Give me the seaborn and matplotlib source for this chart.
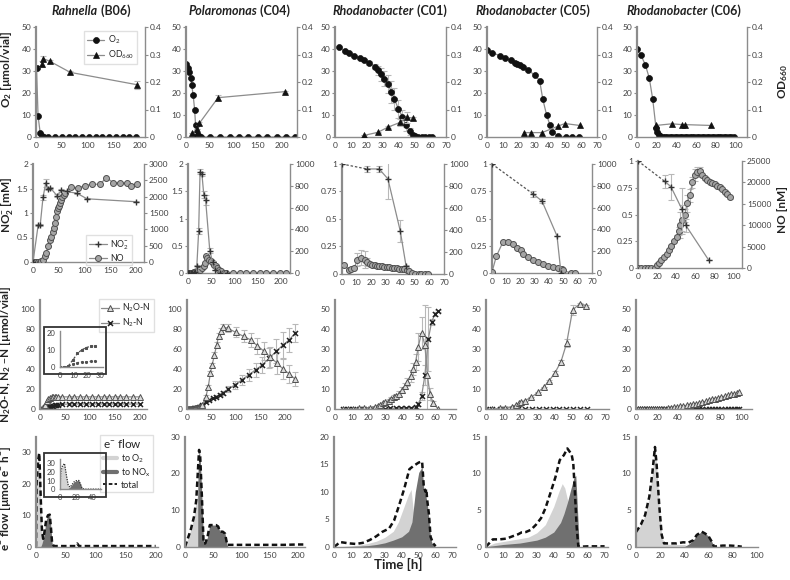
import numpy as np
import pandas as pd
import seaborn as sns
import matplotlib
matplotlib.use("Agg")
import matplotlib.pyplot as plt
from matplotlib.ticker import FuncFormatter
from matplotlib.lines import Line2D
from matplotlib.patches import Rectangle

# ---------------- DATA ----------------
titles_genus = ["Rahnella", "Polaromonas", "Rhodanobacter", "Rhodanobacter", "Rhodanobacter"]
titles_code = [" (B06)", " (C04)", " (C01)", " (C05)", " (C06)"]

# Row 1: O2 (umol/vial) and OD660
b06_o2_t = [1, 4, 8, 11, 16, 24, 37, 50, 63, 76, 89, 102, 115, 128, 141, 154, 167, 180, 193]
b06_o2 = [31.5, 9.5, 2.0, 0.5, 0, 0, 0, 0, 0, 0, 0, 0, 0, 0, 0, 0, 0, 0, 0]
b06_od_t = [11, 14, 27, 66, 195]
b06_od = [0.265, 0.285, 0.275, 0.235, 0.19]
b06_od_err = [0.01, 0.01, 0.005, 0.005, 0.015]

c04_o2_t = [1, 4, 7, 10, 12, 15, 18, 20, 23, 27, 31, 50, 71, 92, 111, 130, 151, 169, 190, 209, 228]
c04_o2 = [33, 31.5, 29.5, 27, 23.5, 19, 12.5, 5.5, 1.5, 0.5, 0, 0, 0, 0, 0, 0, 0, 0, 0, 0, 0]
c04_od_t = [12, 24, 28, 67, 207]
c04_od = [0.013, 0.03, 0.05, 0.143, 0.165]
c04_od_err = [0, 0, 0.005, 0.008, 0.004]

c01_o2_t = [2.5, 6, 9, 12, 15.5, 18.5, 21.5, 25, 27, 29, 31, 33.5, 35.5, 37.5, 40, 42.5, 44.5, 47, 49, 50.5, 52.5, 55, 57, 59, 61]
c01_o2 = [40.7, 39.2, 38.1, 37, 36, 35, 33.7, 32, 30.4, 28.5, 26.5, 24.1, 20.6, 17.2, 12.7, 9.3, 5.6, 2.6, 0.8, 0.3, 0, 0, 0, 0, 0]
c01_o2_err = [0, 0, 0, 0, 0, 0.5, 0.8, 1, 2, 3, 3.5, 4, 5, 5, 4, 3, 3, 1.5, 0.5, 0, 0, 0, 0, 0, 0]
c01_od_t = [18.5, 27, 33.5, 41, 45.5, 49.5]
c01_od = [0.006, 0.017, 0.036, 0.053, 0.072, 0.068]
c01_od_err = [0, 0.002, 0.004, 0.012, 0.02, 0.005]

c05_o2_t = [0, 3, 8.5, 11.5, 15, 18, 19, 21, 23, 26, 30.5, 33.5, 35.5, 38, 40, 41.5, 45.5, 50, 54, 58.5]
c05_o2 = [39.5, 38.3, 37, 35.8, 34.9, 33.8, 33.2, 32.6, 31.7, 30.3, 28.2, 25.6, 17.2, 9.8, 5.6, 2.4, 0.5, 0, 0, 0]
c05_od_t = [23.5, 28, 35, 45.5, 49.5, 59]
c05_od = [0.016, 0.016, 0.016, 0.04, 0.049, 0.042]

c06_o2_t = [0, 4, 8.5, 12.5, 16, 19.3, 20.3, 22, 23.7, 26, 28.5, 31, 33.5, 36, 38.5, 41, 43.5, 46, 48.5, 51,
            53.5, 56, 58.5, 61, 63.5, 66, 68.5, 71, 73.5, 76, 78.5, 81, 83.5, 86, 88.5, 91, 93.5, 96, 98.5]
c06_o2 = [39.8, 37.2, 32.8, 26.8, 17.2, 4.3, 2.1, 0.9, 0.3, 0, 0, 0, 0, 0, 0, 0, 0, 0, 0, 0,
          0, 0, 0, 0, 0, 0, 0, 0, 0, 0, 0, 0, 0, 0, 0, 0, 0, 0, 0]
c06_od_t = [19.3, 35.6, 45.8, 49.2, 75]
c06_od = [0.042, 0.048, 0.045, 0.045, 0.042]

# Row 2: NO2- (mM) and NO (nM)
b06_no2_t = [0, 10, 14, 19.5, 25, 29, 34, 47, 55, 66, 86, 105, 201]
b06_no2 = [0, 0.75, 0.75, 1.32, 1.62, 1.49, 1.51, 1.35, 1.46, 1.44, 1.4, 1.29, 1.23]
b06_no2_err = [0, 0.02, 0.02, 0.05, 0.08, 0.02, 0.02, 0.03, 0.04, 0.02, 0.01, 0.01, 0.01]
b06_no_t = [0, 3, 6.5, 10, 13, 16, 19.5, 22.5, 26, 29, 32.5, 35.5, 39, 41, 42.5, 44, 47, 48.5, 50.5, 53, 55, 57,
            59.5, 61.5, 73, 87.5, 100.5, 115.5, 130, 143, 156, 169, 182, 191.5, 203]
b06_no = [0, 0, 0, 0, 10, 20, 70, 170, 290, 480, 680, 780, 930, 1040, 1200, 1390, 1550, 1650, 1720, 1800, 1900, 1980,
          2050, 2110, 2290, 2260, 2340, 2380, 2380, 2580, 2430, 2430, 2410, 2340, 2390]

c04_no2_t = [0, 3, 6, 9, 12, 15, 19, 23, 26, 30, 34, 38, 47, 53, 58, 70, 85]
c04_no2 = [0, 0, 0, 0, 0, 0.02, 0.12, 0.77, 1.86, 1.82, 1.44, 1.34, 0.41, 0.2, 0.05, 0, 0]
c04_no2_err = [0, 0, 0, 0, 0, 0, 0.03, 0.05, 0.05, 0.04, 0.06, 0.1, 0.05, 0.02, 0, 0, 0]
c04_no_t = [0, 2, 4, 6, 8, 10, 12, 14, 16, 19, 22, 26, 30, 33.5, 37, 39, 42, 46, 49, 53, 56, 60, 63, 67, 72, 78, 83,
            98, 112, 126, 141, 155, 169, 184, 198, 212]
c04_no = [0, 0, 0, 0, 0, 2, 5, 8, 12, 20, 25, 30, 46, 61, 90, 152, 137, 122, 107, 91, 76, 61, 46, 30, 15, 0, 0,
          0, 0, 0, 0, 0, 0, 0, 0, 0]

c01_no2_t = [0, 17, 25.5, 31.5, 40, 44]
c01_no2 = [1, 0.955, 0.955, 0.865, 0.39, 0.07]
c01_no2_err = [0, 0.03, 0.03, 0.18, 0.1, 0.01]
c01_no_t = [1.5, 4.5, 6.5, 8.5, 10.5, 13, 15.5, 17, 19, 20.5, 22.5, 24, 25.5, 27.5, 29, 31, 32.5, 34, 36, 37.5, 39,
            41, 42.5, 44.5, 46, 48, 50, 52.5, 54.5, 57, 59]
c01_no = [85, 40, 49, 58, 131, 149, 131, 109, 94, 85, 79, 76, 73, 70, 67, 64, 61, 58, 55, 52, 49,
          46, 43, 33, 24, 12, 3, 0, 0, 0, 0]
c01_no_err = [8, 5, 5, 8, 60, 70, 80, 40, 10, 5, 5, 5, 5, 5, 5, 5, 5, 5, 5, 5, 5, 5, 5, 5, 5, 5, 3, 0, 0, 0, 0]

c05_no2_t = [0, 28.7, 35, 45.5, 48.3]
c05_no2 = [1, 0.726, 0.66, 0.34, 0]
c05_no2_err = [0, 0.03, 0.02, 0, 0]
c05_no_t = [0, 3, 7.5, 11, 14.5, 17.5, 20, 22, 25.5, 29, 32.5, 36, 39.5, 43, 46.5, 49, 50, 55, 58]
c05_no = [9, 152, 280, 283, 265, 229, 207, 177, 146, 122, 104, 85, 67, 52, 43, 40, 24, 0, 0]

c06_no2_t = [0, 28, 34.5, 46, 50, 74]
c06_no2 = [1, 0.81, 0.76, 0.55, 0.4, 0.075]
c06_no2_err = [0, 0.06, 0.12, 0.2, 0.06, 0]
c06_no_t = [0, 3.5, 7, 10.5, 14, 17.5, 19.5, 22, 24.5, 27, 30, 32.5, 35, 37.5, 40.5, 43, 44.5, 46.5, 49, 51.5, 54.5,
            57, 59.5, 62, 65, 67.5, 70, 72.5, 75.5, 78, 80.5, 83, 86, 88.5, 91, 93.5, 96.5]
c06_no = [0, 0, 0, 0, 0, 0, 625, 1170, 1800, 2580, 3360, 4300, 5080, 6250, 7270, 8670, 10000, 11330, 12340, 15080,
          17030, 20000, 21720, 22500, 22730, 21720, 20940, 20550, 20160, 19920, 19610, 19220, 18980, 18440, 17810,
          17190, 16480]
c06_no_err = [0, 0, 0, 0, 0, 0, 0, 0, 0, 0, 0, 0, 0, 0, 500, 1000, 3000, 3500, 1500, 2000, 1500, 1200, 1500, 1200,
              800, 300, 300, 300, 300, 300, 300, 300, 300, 300, 300, 300, 300]

# Row 3: N2O-N and N2-N (umol/vial)
b06_n_t = [0, 3, 6, 9.5, 13, 16, 19.5, 23, 26, 29, 32, 35, 43, 57, 68, 80, 92, 103, 115, 127, 138, 150, 161, 173,
           185, 199]
b06_n2o = [0, 0, 0.6, 4.2, 8, 10, 11.4, 12.2, 12.4, 12.5, 12.5, 12.5, 12.4, 12.4, 12.4, 12.4, 12.4, 12.4, 12.4,
           12.4, 12.4, 12.4, 12.4, 12.4, 12.4, 12.4]
b06_n2 = [0, 0, 0.4, 1.9, 2.7, 3, 3.2, 3.4, 3.6, 3.8, 4, 4.2, 4.8, 5.3, 5.3, 5.3, 5.3, 5.3, 5.3, 5.3, 5.3, 5.3,
          5.3, 5.3, 5.3, 5.3]

c04_n2o_t = [0, 2, 4, 6, 8, 10, 12, 14, 16, 18, 20, 22, 24, 26, 28, 30, 31.6, 38.6, 43.5, 47.7, 51.2, 56, 60.4,
             64.6, 68.8, 73.7, 82.8, 99.6, 115.8, 129.8, 143.9, 158, 170, 184, 196.5, 209, 221]
c04_n2o = [0, 0, 0, 0, 0.3, 0.5, 0.5, 0.7, 1, 1, 1.2, 1.5, 1.8, 2, 2.5, 3, 4.3, 12.7, 22.7, 36, 44, 54, 64,
           72.7, 78.3, 82, 81, 76.7, 72.7, 69.3, 63.3, 57.7, 52, 46, 40, 35.3, 30]
c04_n2o_err = [0, 0, 0, 0, 0, 0, 0, 0, 0, 0, 0, 0, 0, 0, 0, 0, 1, 1.5, 2, 2, 2, 3, 3, 3, 3, 3, 4, 5, 6, 7, 8,
               9, 10, 11, 10, 9, 7]
c04_n2_t = [0, 2, 4, 6, 8, 10, 12, 14, 16, 18, 20, 22, 24, 26, 28, 30, 31.6, 38.6, 45.6, 52.6, 59.6, 66.7, 73.7,
            84.2, 98, 112, 126, 140, 154, 168, 182, 196.5, 209, 221]
c04_n2 = [0, 0, 0, 0.2, 0.3, 0.5, 0.6, 0.8, 1, 1.2, 1.4, 1.6, 1.8, 2.1, 2.4, 2.8, 4.3, 7.7, 9.3, 11, 12.7, 14.3,
          16.7, 20.3, 24.3, 29.3, 34.3, 39.3, 44.3, 51, 57.7, 64.3, 69.3, 76]
c04_n2_err = [0, 0, 0, 0, 0, 0, 0, 0, 0, 0, 0, 0, 0, 0, 0, 0, 0.5, 0.8, 1, 1, 1.5, 1.5, 2, 3, 4, 5, 6, 7, 8,
              10, 12, 13, 12, 9]

c01_n2o_t = [5, 8, 11, 14, 17, 21, 24, 25.5, 27, 28.5, 30, 32, 33.5, 35, 36.5, 38, 40, 41.5, 43, 45, 46.5, 48,
             49.5, 51.5, 53.5, 55, 56.5, 58.5, 61.5]
c01_n2o = [0, 0, 0.3, 0.5, 0.5, 0.8, 1.3, 1.8, 2.3, 3, 3.7, 4.3, 5.2, 6, 6.8, 7.7, 9.7, 11.7, 13.8, 16.8, 20,
           23.8, 31, 38.3, 32, 17, 7.5, 3, 0]
c01_n2o_err = [0, 0, 0, 0, 0, 0, 0.3, 0.3, 0.5, 0.5, 0.5, 0.6, 0.8, 1, 1, 1.2, 1.5, 1.5, 2, 3, 3, 4, 7, 8, 20, 18,
               3, 1, 0]
c01_n2_t = [5, 8, 11, 14, 17, 21, 24, 27, 30, 33, 36, 39, 42, 45, 48, 49.5, 51.5, 53.5, 55.5, 57.5, 59.5, 61.5]
c01_n2 = [0, 0, 0, 0, 0, 0, 0.2, 0.3, 0.3, 0.4, 0.5, 0.5, 0.6, 0.8, 1.2, 2.5, 6.5, 17, 35, 43.7, 47.7, 49]
c01_n2_err = [0, 0, 0, 0, 0, 0, 0, 0, 0, 0, 0, 0, 0, 0, 0.5, 1, 2, 5, 16, 1.5, 1, 0.5]

c05_n2o_t = [0, 3.3, 8, 11, 15, 17.8, 19.3, 20.7, 22.6, 26.5, 30.4, 33.7, 37, 40.4, 43.9, 47.2, 50.7, 55, 58.8]
c05_n2o = [0, 0, 0.5, 0.7, 1.3, 2.2, 3, 3.5, 4.3, 6, 8.5, 11, 14.3, 18.3, 23.8, 33, 49.7, 52.7, 51.8]
c05_n2o_err = [0, 0, 0, 0, 0, 0, 0, 0, 0, 0, 0, 0, 0.5, 0.8, 1, 2, 2.5, 0.5, 0.5]
c05_n2_t = [0, 3.3, 8, 11, 15, 19, 23, 27, 31, 35, 39, 43, 47, 51, 55, 59]
c05_n2 = [0, 0, 0, 0, 0, 0, 0, 0, 0, 0, 0, 0, 0, 0, 0, 0]

c06_n_t = [0, 2, 4, 6, 8, 10, 12, 14, 16, 18, 20, 22, 24, 27, 30, 33, 36, 39, 42, 45, 48, 51, 54, 57, 60, 63, 66,
           69, 72, 75, 78, 81, 84, 87, 90, 93, 96, 98]
c06_n2o = [0, 0, 0, 0, 0, 0, 0, 0, 0, 0, 0.1, 0.1, 0.2, 0.3, 0.5, 0.7, 0.9, 1.2, 1.4, 1.7, 2, 2.3, 2.6, 2.8, 3.1,
           3.5, 4, 4.4, 4.9, 5.3, 5.8, 6.1, 6.6, 7, 7.4, 7.8, 8.2, 8.5]
c06_n2 = [0, 0, 0, 0, 0, 0, 0, 0, 0, 0, 0, 0, 0, 0, 0, 0, 0, 0, 0, 0, 0, 0, 0, 0, 0, 0, 0, 0, 0, 0, 0, 0, 0, 0,
          0, 0, 0, 0]

# Row 4: electron flow (umol e- h-1)
b06_tot_t = [0, 1, 3, 5.5, 8, 10, 12, 14, 17, 20, 23, 25, 27, 30, 40, 50, 60, 66, 69, 72, 80, 100, 125, 150, 175, 200]
b06_tot = [0, 20, 27, 29.8, 15, 5, 2.5, 4.5, 8.5, 10, 10.2, 6, 1, 0.2, 0.2, 0.2, 0.2, 0.2, 1, 0.2, 0.2, 0.2, 0.2,
           0.2, 0.2, 0.2]
b06_eo2_t = [0, 1, 3, 5.5, 8, 10, 12]
b06_eo2 = [0, 20, 27, 29.8, 15, 4, 0]
b06_enox_t = [8, 10, 12, 14, 17, 20, 23, 25, 27, 30]
b06_enox = [0, 1, 2.5, 4.5, 8.5, 10, 10.2, 6, 1, 0]

c04_tot_t = [0, 4, 10, 16, 20, 23.3, 25, 27, 30, 33, 36, 40, 44, 49, 55, 59, 62, 67, 71, 75, 100, 125, 150, 175,
             200, 210]
c04_tot = [0, 1.8, 4.5, 8.2, 12.7, 21.8, 26.4, 24.5, 13.6, 0.9, 0.9, 2.7, 5.9, 5.9, 5.9, 5.5, 4.1, 4.1, 3.6, 0.5,
           0.5, 0.5, 0.5, 0.5, 0.6, 0.6]
c04_eo2_t = [0, 4, 10, 16, 20, 22.5, 22.6]
c04_eo2 = [0, 1.8, 4.5, 8.2, 12.7, 14, 0]
c04_enox_t = [22.5, 23.3, 25, 27, 30, 33, 36, 40, 44, 49, 55, 59, 62, 67, 71, 75, 76]
c04_enox = [14, 21.8, 26.4, 24.5, 13.6, 0.9, 0.9, 2.7, 5.9, 5.9, 5.9, 5.5, 4.1, 4.1, 3.6, 0.5, 0]

c01_tot_t = [0, 1.5, 3.5, 9, 13, 17, 21, 25, 28.5, 32.5, 35.5, 38.5, 41.5, 44.5, 47, 50, 52, 53, 54, 54.5, 55, 56,
             57, 58.5, 60]
c01_tot = [0, 0.3, 0.85, 0.6, 0.5, 0.7, 1.2, 1.9, 2.7, 3.3, 4.8, 7.6, 10.6, 14.1, 14.7, 15.3, 15.5, 10.9, 10,
           10.5, 8.5, 6, 1.8, 0.6, 0.1]
c01_eo2_t = [0, 10, 15, 20, 25, 30, 35, 38, 41, 44, 45.5, 47, 48]
c01_eo2 = [0, 0.1, 0.3, 0.6, 1, 1.7, 2.8, 4.5, 7, 9.5, 10.4, 6, 0]
c01_enox_t = [0, 15, 20, 25, 30, 35, 40, 44, 46, 48, 50, 51, 52, 53, 54, 55, 56, 57, 58, 60]
c01_enox = [0, 0.1, 0.2, 0.4, 0.7, 1.2, 1.8, 2.8, 4.5, 10, 13.5, 14, 14.5, 10.5, 9.5, 8, 5, 1.5, 0.5, 0]

c05_tot_t = [0, 4, 8, 12, 16, 19, 21, 23.5, 26.5, 29.5, 32.5, 35, 38, 41, 43.5, 46, 48, 50.5, 51.5, 52.5, 53.5,
             54.5, 56, 60, 65, 70]
c05_tot = [0, 1, 1, 1.1, 1.45, 1.7, 1.95, 2, 2.3, 3, 3.9, 5.2, 7.3, 9.5, 11.8, 12.5, 13.4, 12.6, 11.4, 7.3, 2.7,
           0, 0, 0.05, 0.05, 0.05]
c05_eo2_t = [0, 5, 10, 15, 20, 25, 30, 35, 40, 43, 45, 46.5, 48, 50, 51]
c05_eo2 = [0, 0.5, 0.7, 0.9, 1.1, 1.3, 1.9, 3, 5.5, 7.5, 8.6, 8, 6.5, 5, 0]
c05_enox_t = [0, 10, 20, 30, 35, 40, 44, 46, 48, 50, 52, 53, 54, 55]
c05_enox = [0, 0.3, 0.5, 0.9, 1.3, 2, 3.3, 4.5, 6, 7.8, 9.5, 9.7, 5, 0]

c06_tot_t = [0, 4, 7.5, 11, 13.5, 15.7, 17, 19.3, 21.3, 23.2, 26.8, 33.7, 39, 43.4, 47.5, 50.3, 54.4, 57.2, 60,
             62.7, 64.6, 68, 72, 78, 83, 87.6]
c06_tot = [2, 3, 4.3, 6.8, 10, 13.6, 11.4, 5.5, 1.6, 0.45, 0.45, 0.45, 0.6, 0.55, 0.9, 1.6, 2.05, 1.8, 1.45, 0.7,
           0, 0.1, 0.15, 0.15, 0.1, 0]
c06_eo2_t = [0, 4, 7.5, 11, 13.5, 15.7, 17, 19.3, 21.3, 23.2, 30, 40, 45]
c06_eo2 = [2, 3, 4.3, 6.8, 10, 13.6, 11.4, 5.5, 1.6, 0.4, 0.3, 0.3, 0]
c06_enox_t = [40, 44, 47.5, 50.3, 54.4, 57.2, 60, 62.7, 64.6]
c06_enox = [0, 0.4, 0.9, 1.6, 2.05, 1.8, 1.45, 0.7, 0]

# ---------------- STYLE ----------------
sns.set_theme(style="white")
FAM = ["Lato", "DejaVu Sans"]
plt.rcParams["font.family"] = FAM
plt.rcParams["axes.facecolor"] = "none"
plt.rcParams["mathtext.default"] = "regular"

W, H = 790, 580
SP = "#8c8c8c"
LINE = "#8c8c8c"
ERR = "#b8b8b8"
LIGHT = "#d3d3d3"
DARK = "#707070"
TXT = "#404040"

fig = plt.figure(figsize=(W / 100, H / 100), dpi=100)
fig.patch.set_facecolor("white")

fmt = FuncFormatter(lambda v, p: f"{v:g}")


def add_ax(L, R, T, B):
    return fig.add_axes([L / W, 1 - B / H, (R - L) / W, (B - T) / H])


def style(ax, xlim, xticks, ylim, yticks):
    ax.set_xlim(xlim)
    ax.set_ylim(ylim)
    ax.set_xticks(xticks)
    ax.set_yticks(yticks)
    for s in ["top", "right"]:
        ax.spines[s].set_visible(False)
    ax.spines["left"].set_color(SP)
    ax.spines["left"].set_linewidth(1.6)
    ax.spines["bottom"].set_color(SP)
    ax.spines["bottom"].set_linewidth(1.0)
    ax.tick_params(labelsize=6, labelcolor=TXT, color=SP, length=2, width=0.8, pad=1.5)
    ax.xaxis.set_major_formatter(fmt)
    ax.yaxis.set_major_formatter(fmt)
    ax.set_xlabel("")
    ax.set_ylabel("")
    ax.grid(False)


def twin(ax, ylim, yticks):
    tw = ax.twinx()
    tw.set_ylim(ylim)
    tw.set_yticks(yticks)
    for s in ["top", "left", "bottom"]:
        tw.spines[s].set_visible(False)
    tw.spines["right"].set_visible(True)
    tw.spines["right"].set_color(SP)
    tw.spines["right"].set_linewidth(1.0)
    tw.tick_params(labelsize=6, labelcolor=TXT, color=SP, length=2, width=0.8, pad=1.5)
    tw.yaxis.set_major_formatter(fmt)
    tw.grid(False)
    return tw


def line(ax, t, v, color=LINE, lw=0.9, ls="-", **kw):
    sns.lineplot(x=t, y=v, ax=ax, color=color, lw=lw, linestyle=ls, sort=False,
                 estimator=None, errorbar=None, legend=False, **kw)
    ax.set_xlabel("")
    ax.set_ylabel("")


def err(ax, t, v, e):
    ax.errorbar(t, v, yerr=e, fmt="none", ecolor=ERR, elinewidth=0.8, capsize=2, capthick=0.8, zorder=1)


O2MK = dict(marker="o", markersize=4.3, markerfacecolor="#111111", markeredgecolor="#111111", markeredgewidth=0.5)
ODMK = dict(marker="^", markersize=4.3, markerfacecolor="#111111", markeredgecolor="#111111", markeredgewidth=0.5)
NO2MK = dict(marker="+", markersize=5, markerfacecolor="#333333", markeredgecolor="#333333", markeredgewidth=1.0)
NOMK = dict(marker="o", markersize=4.3, markerfacecolor="#a5a5a5", markeredgecolor="#505050", markeredgewidth=0.7)
N2OMK = dict(marker="^", markersize=4.3, markerfacecolor="#d9d9d9", markeredgecolor="#505050", markeredgewidth=0.7)
N2MK = dict(marker="x", markersize=3.6, markerfacecolor="#222222", markeredgecolor="#222222", markeredgewidth=1.1)

LEG = dict(bbox_transform=fig.transFigure, fontsize=6.3, frameon=True, fancybox=False,
           edgecolor="#d9d9d9", handlelength=2.0, borderpad=0.3, labelspacing=0.25, handletextpad=0.4)

# ---------------- ROW 1 ----------------
r1 = [(36, 145, (0, 210), [0, 50, 100, 150, 200]),
      (186, 297, (0, 232), [0, 50, 100, 150, 200]),
      (335, 446, (0, 70), list(range(0, 71, 10))),
      (487, 597, (0, 70), list(range(0, 71, 10))),
      (637, 747, (0, 112), list(range(0, 101, 20)))]
o2_sets = [(b06_o2_t, b06_o2, None), (c04_o2_t, c04_o2, None), (c01_o2_t, c01_o2, c01_o2_err),
           (c05_o2_t, c05_o2, None), (c06_o2_t, c06_o2, None)]
od_sets = [(b06_od_t, b06_od, b06_od_err), (c04_od_t, c04_od, c04_od_err), (c01_od_t, c01_od, c01_od_err),
           (c05_od_t, c05_od, None), (c06_od_t, c06_od, None)]
for i, (L, R, xl, xt) in enumerate(r1):
    ax = add_ax(L, R, 27, 137)
    style(ax, xl, xt, (0, 50), [0, 10, 20, 30, 40, 50])
    tw = twin(ax, (0, 0.4), [0, 0.1, 0.2, 0.3, 0.4])
    t, v, e = o2_sets[i]
    if e is not None:
        err(ax, t, v, e)
    line(ax, t, v, **O2MK)
    t, v, e = od_sets[i]
    if e is not None:
        err(tw, t, v, e)
    line(tw, t, v, **ODMK)
    if i == 0:
        hs = [Line2D([], [], color=LINE, lw=0.9, **O2MK), Line2D([], [], color=LINE, lw=0.9, **ODMK)]
        tw.legend(hs, ["O$_2$", "OD$_{660}$"], loc="upper right", bbox_to_anchor=(141 / W, 1 - 27 / H), **LEG)

# ---------------- ROW 2 ----------------
r2 = [(33, 144, 164, 262, (0, 216), [0, 50, 100, 150, 200], (0, 2), [0, 0.5, 1, 1.5, 2],
       (0, 3000), list(range(0, 3001, 500))),
      (188, 290, 164, 273, (0, 220), [0, 50, 100, 150, 200], (0, 2), [0, 0.5, 1, 1.5, 2],
       (0, 1000), list(range(0, 1001, 200))),
      (342, 444, 164, 274, (0, 70), list(range(0, 71, 10)), (0, 1), [0, 0.25, 0.5, 0.75, 1],
       (0, 1000), list(range(0, 1001, 200))),
      (492, 592, 164, 273, (0, 70), list(range(0, 71, 10)), (0, 1), [0, 0.25, 0.5, 0.75, 1],
       (0, 1000), list(range(0, 1001, 200))),
      (638, 742, 161, 268, (0, 109), list(range(0, 101, 20)), (0, 1), [0, 0.25, 0.5, 0.75, 1],
       (0, 25000), list(range(0, 25001, 5000)))]
no2_sets = [(b06_no2_t, b06_no2, b06_no2_err, False), (c04_no2_t, c04_no2, c04_no2_err, False),
            (c01_no2_t, c01_no2, c01_no2_err, True), (c05_no2_t, c05_no2, c05_no2_err, True),
            (c06_no2_t, c06_no2, c06_no2_err, True)]
no_sets = [(b06_no_t, b06_no, None), (c04_no_t, c04_no, None), (c01_no_t, c01_no, c01_no_err),
           (c05_no_t, c05_no, None), (c06_no_t, c06_no, c06_no_err)]
for i, (L, R, T, B, xl, xt, yl, yt, y2l, y2t) in enumerate(r2):
    ax = add_ax(L, R, T, B)
    style(ax, xl, xt, yl, yt)
    tw = twin(ax, y2l, y2t)
    t, v, e = no_sets[i]
    if e is not None:
        err(tw, t, v, e)
    line(tw, t, v, **NOMK)
    # NO2 drawn on a top layer axis sharing the left scale
    top = fig.add_axes(ax.get_position())
    top.set_xlim(xl)
    top.set_ylim(yl)
    top.axis("off")
    t, v, e, dashed_first = no2_sets[i]
    err(top, t, v, e)
    if dashed_first:
        line(top, t[:2], v[:2], color="#555555", lw=0.9, ls=(0, (2, 1.5)))
        line(top, t[1:], v[1:], **NO2MK)
        line(top, t[:1], v[:1], **NO2MK)
    else:
        line(top, t, v, **NO2MK)
    if i == 0:
        hs = [Line2D([], [], color=LINE, lw=0.9, **NO2MK), Line2D([], [], color=LINE, lw=0.9, **NOMK)]
        top.legend(hs, ["NO$_2^{-}$", "NO"], loc="upper right", bbox_to_anchor=(136 / W, 1 - 231 / H), **LEG)

# ---------------- ROW 3 ----------------
r3 = [(40, 147, (0, 214), [0, 50, 100, 150, 200], (0, 109), list(range(0, 101, 20))),
      (187, 303, (0, 237), [0, 50, 100, 150, 200], (0, 109), list(range(0, 101, 20))),
      (335, 456, (0, 72), list(range(0, 71, 10)), (0, 54.6), list(range(0, 51, 10))),
      (486, 609, (0, 72), list(range(0, 71, 10)), (0, 54.6), list(range(0, 51, 10))),
      (636, 752, (0, 110), list(range(0, 101, 20)), (0, 54.6), list(range(0, 51, 10)))]
n2o_sets = [(b06_n_t, b06_n2o, None), (c04_n2o_t, c04_n2o, c04_n2o_err), (c01_n2o_t, c01_n2o, c01_n2o_err),
            (c05_n2o_t, c05_n2o, c05_n2o_err), (c06_n_t, c06_n2o, None)]
n2_sets = [(b06_n_t, b06_n2, None), (c04_n2_t, c04_n2, c04_n2_err), (c01_n2_t, c01_n2, c01_n2_err),
           (c05_n2_t, c05_n2, None), (c06_n_t, c06_n2, None)]
for i, (L, R, xl, xt, yl, yt) in enumerate(r3):
    ax = add_ax(L, R, 300, 409.3)
    style(ax, xl, xt, yl, yt)
    t, v, e = n2o_sets[i]
    if e is not None:
        err(ax, t, v, e)
    t2, v2, e2 = n2_sets[i]
    if e2 is not None:
        err(ax, t2, v2, e2)
    line(ax, t2, v2, **N2MK)
    line(ax, t, v, **N2OMK)
    if i == 0:
        hs = [Line2D([], [], color=LINE, lw=0.9, **N2OMK), Line2D([], [], color=LINE, lw=0.9, **N2MK)]
        ax.legend(hs, ["N$_2$O-N", "N$_2$-N"], loc="upper right", bbox_to_anchor=(158 / W, 1 - 295 / H), **LEG)

# inset row 3
fig.add_artist(Rectangle((44 / W, 1 - 374 / H), 62 / W, 47 / H, transform=fig.transFigure,
                         fill=False, ec="#333333", lw=1.3))
ins = add_ax(60, 103, 331, 367.3)
style(ins, (0, 32), [0, 10, 20, 30], (0, 21), [0, 10, 20])
ins.spines["left"].set_linewidth(1.0)
ins.tick_params(labelsize=5.5)
k = [j for j, tt in enumerate(b06_n_t) if tt <= 27]
line(ins, [b06_n_t[j] for j in k], [b06_n2o[j] for j in k], color="#505050", lw=0.9, ls=(0, (2, 1.5)),
     marker="s", markersize=1.8, markerfacecolor="#505050", markeredgecolor="#505050")
line(ins, [b06_n_t[j] for j in k], [b06_n2[j] for j in k], color="#505050", lw=0.9, ls=(0, (2, 1.5)),
     marker="o", markersize=1.5, markerfacecolor="#505050", markeredgecolor="#505050")

# ---------------- ROW 4 ----------------
r4 = [(36, 158, (0, 204), [0, 50, 100, 150, 200], (0, 35), [0, 10, 20, 30]),
      (185, 305, (0, 213), [0, 50, 100, 150, 200], (0, 30), [0, 10, 20, 30]),
      (334, 456, (0, 72), list(range(0, 71, 10)), (0, 20), [0, 5, 10, 15, 20]),
      (486, 608, (0, 72), list(range(0, 71, 10)), (0, 15), [0, 5, 10, 15]),
      (636, 758, (0, 101), list(range(0, 101, 20)), (0, 15), [0, 5, 10, 15])]
e_sets = [(b06_eo2_t, b06_eo2, b06_enox_t, b06_enox, b06_tot_t, b06_tot),
          (c04_eo2_t, c04_eo2, c04_enox_t, c04_enox, c04_tot_t, c04_tot),
          (c01_eo2_t, c01_eo2, c01_enox_t, c01_enox, c01_tot_t, c01_tot),
          (c05_eo2_t, c05_eo2, c05_enox_t, c05_enox, c05_tot_t, c05_tot),
          (c06_eo2_t, c06_eo2, c06_enox_t, c06_enox, c06_tot_t, c06_tot)]
for i, (L, R, xl, xt, yl, yt) in enumerate(r4):
    ax = add_ax(L, R, 436.7, 546.7)
    style(ax, xl, xt, yl, yt)
    ot, ov, nt, nv, tt, tv = e_sets[i]
    ax.fill_between(ot, 0, ov, color=LIGHT, lw=0, zorder=1)
    ax.fill_between(nt, 0, nv, color=DARK, lw=0, zorder=2)
    line(ax, tt, tv, color="#111111", lw=1.8, ls=(0, (2.2, 1.3)))
    if i == 0:
        hs = [Line2D([], [], color=LIGHT, lw=3), Line2D([], [], color=DARK, lw=3),
              Line2D([], [], color="#111111", lw=1.3, ls=(0, (2, 1.2)))]
        lg = ax.legend(hs, ["to O$_2$", "to NO$_x$", "total"], loc="upper right",
                       bbox_to_anchor=(158 / W, 1 - 430 / H), bbox_transform=fig.transFigure,
                       fontsize=6.5, frameon=True, fancybox=False, edgecolor="#d9d9d9",
                       handlelength=1.6, borderpad=0.3, labelspacing=0.2, handletextpad=0.4,
                       title="e$^{-}$ flow", title_fontsize=8.5)
        lg._legend_box.align = "left"

# inset row 4
fig.add_artist(Rectangle((44 / W, 1 - 497 / H), 62 / W, 44 / H, transform=fig.transFigure,
                         fill=False, ec="#333333", lw=1.3))
ins2 = add_ax(60, 101, 459, 489.3)
style(ins2, (0, 50), [0, 20, 40], (0, 35), [0, 10, 20, 30])
ins2.spines["left"].set_linewidth(1.0)
ins2.tick_params(labelsize=5.5)
ins2.fill_between(b06_eo2_t, 0, b06_eo2, color=LIGHT, lw=0)
ins2.fill_between(b06_enox_t, 0, b06_enox, color=DARK, lw=0)
k2 = [j for j, tt in enumerate(b06_tot_t) if tt <= 50]
line(ins2, [b06_tot_t[j] for j in k2], [b06_tot[j] for j in k2], color="#333333", lw=0.9, ls=(0, (1, 1)))

# ---------------- TEXT ----------------
centers = [91, 239, 390, 533, 684]
renderer = fig.canvas.get_renderer()
for g, c, cx in zip(titles_genus, titles_code, centers):
    t1 = fig.text(0, 1 - 11 / H, g, fontsize=9, fontweight="bold", fontstyle="italic", va="center",
                  ha="left", color="#222222")
    t2 = fig.text(0, 1 - 11 / H, c, fontsize=9, fontweight="bold", va="center", ha="left",
                  color="#222222")
    w1 = t1.get_window_extent(renderer).width
    w2 = t2.get_window_extent(renderer).width
    x0 = cx - (w1 + w2) / 2
    t1.set_x(x0 / W)
    t2.set_x((x0 + w1) / W)

ylab = dict(fontsize=8.5, fontweight="bold", rotation=90, ha="center", va="center", color="#222222")
fig.text(7 / W, 1 - 70 / H, "O$_2$ [µmol/vial]", **ylab)
fig.text(7 / W, 1 - 205 / H, "NO$_2^{-}$ [mM]", **ylab)
fig.text(6 / W, 1 - 355 / H, "N$_2$O-N, N$_2$ –N [µmol/vial]", **ylab)
fig.text(6 / W, 1 - 498 / H, "e$^{-}$ flow [µmol e$^{-}$ h$^{-}$]", **ylab)
fig.text(783 / W, 1 - 82 / H, "OD$_{660}$", **ylab)
fig.text(783 / W, 1 - 210 / H, "NO [nM]", **ylab)
fig.text(398 / W, 1 - 564 / H, "Time [h]", fontsize=9.5, fontweight="bold", ha="center", va="center",
         color="#222222")

fig.savefig("out.png", dpi=100, facecolor="white")
